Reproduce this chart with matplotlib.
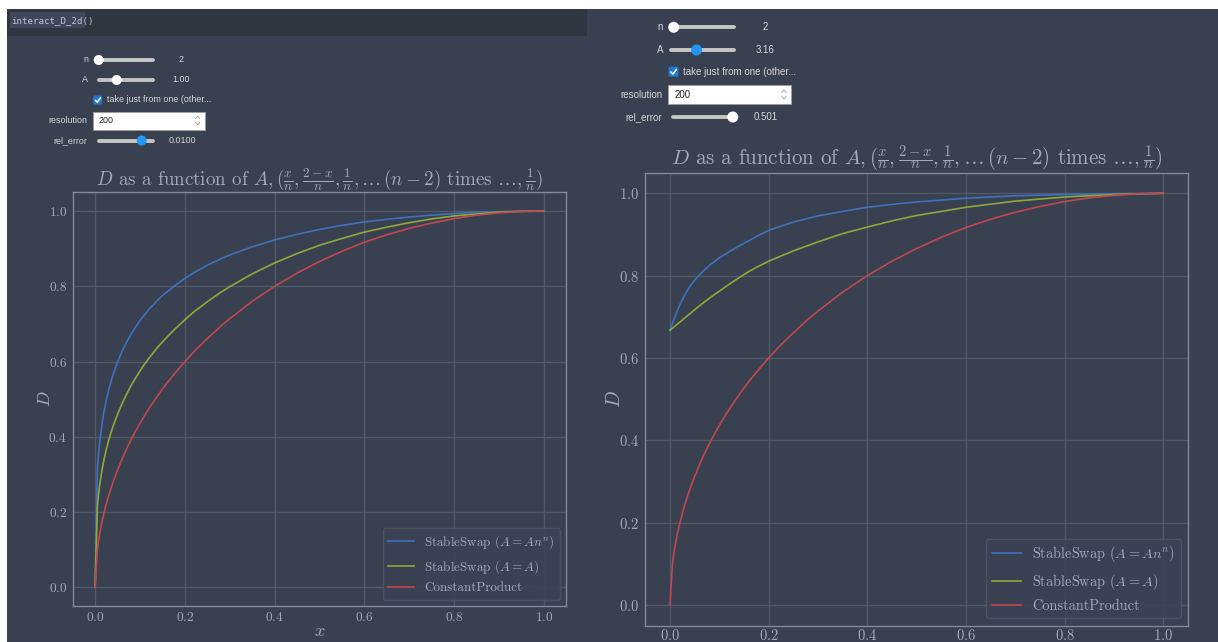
import matplotlib
matplotlib.use("Agg")
import matplotlib.pyplot as plt
from matplotlib.patches import Rectangle, Circle, FancyBboxPatch

# ---------------- data ----------------
x_grid = [0.0, 0.005, 0.0075, 0.01, 0.015, 0.02, 0.025, 0.03, 0.035, 0.04,
          0.05, 0.06, 0.07, 0.08, 0.09, 0.10, 0.11, 0.12, 0.13, 0.14,
          0.15, 0.16, 0.18, 0.20, 0.22, 0.25, 0.28, 0.30, 0.35, 0.40,
          0.45, 0.50, 0.55, 0.60, 0.65, 0.70, 0.75, 0.80, 0.85, 0.90,
          0.95, 1.0]
stable_ann_left = [0.0, 0.313, 0.353, 0.384, 0.432, 0.469, 0.498, 0.524, 0.546, 0.565,
                   0.599, 0.627, 0.651, 0.673, 0.692, 0.709, 0.724, 0.739, 0.751, 0.764,
                   0.775, 0.785, 0.804, 0.821, 0.836, 0.856, 0.873, 0.883, 0.905, 0.923,
                   0.938, 0.951, 0.962, 0.971, 0.978, 0.984, 0.989, 0.993, 0.997, 0.998,
                   1.000, 1.0]
stable_a_left = [0.0, 0.215, 0.246, 0.271, 0.310, 0.341, 0.367, 0.390, 0.410, 0.428,
                 0.460, 0.488, 0.513, 0.536, 0.556, 0.575, 0.593, 0.609, 0.624, 0.639,
                 0.652, 0.665, 0.689, 0.711, 0.732, 0.759, 0.784, 0.799, 0.833, 0.862,
                 0.887, 0.909, 0.927, 0.944, 0.957, 0.969, 0.979, 0.987, 0.992, 0.997,
                 0.999, 1.0]
const_prod = [0.0, 0.100, 0.122, 0.141, 0.173, 0.199, 0.222, 0.243, 0.262, 0.280,
              0.312, 0.341, 0.368, 0.392, 0.415, 0.436, 0.456, 0.475, 0.493, 0.510,
              0.527, 0.543, 0.572, 0.600, 0.626, 0.661, 0.694, 0.714, 0.760, 0.800,
              0.835, 0.866, 0.893, 0.917, 0.937, 0.954, 0.968, 0.980, 0.989, 0.995,
              0.999, 1.0]

x_right = [0.0, 0.005, 0.01, 0.015, 0.02, 0.03, 0.04, 0.05, 0.06, 0.07,
           0.08, 0.09, 0.10, 0.12, 0.14, 0.16, 0.18, 0.20, 0.25, 0.30,
           0.35, 0.40, 0.45, 0.50, 0.60, 0.70, 0.80, 0.90, 1.0]
stable_ann_right = [0.667, 0.684, 0.700, 0.715, 0.729, 0.753, 0.773, 0.789, 0.802, 0.814,
                    0.825, 0.834, 0.843, 0.858, 0.872, 0.885, 0.898, 0.910, 0.930, 0.945,
                    0.956, 0.966, 0.973, 0.979, 0.988, 0.994, 0.997, 0.999, 1.0]
stable_a_right = [0.667, 0.672, 0.677, 0.682, 0.687, 0.697, 0.707, 0.717, 0.727, 0.736,
                  0.745, 0.754, 0.762, 0.779, 0.795, 0.810, 0.823, 0.835, 0.860, 0.882,
                  0.902, 0.918, 0.933, 0.946, 0.966, 0.981, 0.991, 0.997, 1.0]

series_labels = [r"StableSwap $(A = An^n)$", r"StableSwap $(A = A)$", "ConstantProduct"]
title_text = (r"$D$ as a function of $A, (\frac{x}{n}, \frac{2-x}{n}, \frac{1}{n}, \ldots\,(n-2)$"
              r" times $\ldots, \frac{1}{n})$")

# ---------------- style ----------------
W, H = 1218, 642
BG = "#394150"
CODE_BG = "#30363f"
GRID = "#4f596a"
SPINE = "#7f8a9e"
TICK = "#a3abba"
C_BLUE = "#3f72bd"
C_GREEN = "#8fa838"
C_RED = "#c2474f"
WTXT = "#d6d6d6"

plt.rcParams["font.family"] = "cmr10"
plt.rcParams["mathtext.fontset"] = "cm"
plt.rcParams["axes.formatter.use_mathtext"] = True

fig = plt.figure(figsize=(W / 100, H / 100), dpi=100, facecolor="white")

# background / notebook chrome
bg = fig.add_axes([0, 0, 1, 1], zorder=0)
bg.set_xlim(0, W)
bg.set_ylim(H, 0)
bg.axis("off")
bg.add_patch(Rectangle((7, 9), W - 7, H - 9, fc=BG, ec="none"))
bg.add_patch(Rectangle((7, 9), 580, 27, fc=CODE_BG, ec="none"))
bg.add_patch(Rectangle((10, 12), 75, 16, fc="#3f4759", ec="none"))
bg.text(11.5, 20.5, "interact_D_2d()", family="DejaVu Sans Mono", fontsize=6.6,
        color="#b9c4d6", ha="left", va="center")

SANS = "Liberation Sans"


def wlabel(x, y, s, fs):
    bg.text(x, y, s, family=SANS, fontsize=fs, color=WTXT, ha="right", va="center")


def wvalue(x, y, s, fs):
    bg.text(x, y, s, family=SANS, fontsize=fs, color=WTXT, ha="center", va="center")


def slider(x0, x1, y, kx, kcol, r):
    bg.plot([x0, x1], [y, y], color="#c5c5c5", lw=2.8, solid_capstyle="round", zorder=2)
    bg.add_patch(Circle((kx, y), r, fc=kcol, ec="none", zorder=3))


def checkbox(cx, cy, s, text, fs):
    bg.add_patch(FancyBboxPatch((cx - s / 2, cy - s / 2), s, s, boxstyle="round,pad=0,rounding_size=1.5",
                                fc="#1f78d1", ec="none", zorder=2))
    bg.plot([cx - s * 0.28, cx - s * 0.06, cx + s * 0.3], [cy + s * 0.02, cy + s * 0.24, cy - s * 0.24],
            color="white", lw=1.1, zorder=3, solid_capstyle="round")
    bg.text(cx + s / 2 + 4.5, cy, text, family=SANS, fontsize=fs, color=WTXT, ha="left", va="center")


def textbox(x0, x1, y0, y1, label_x, s, fs):
    bg.add_patch(Rectangle((x0, y0), x1 - x0, y1 - y0, fc="white", ec="#9e9e9e", lw=0.6, zorder=2))
    bg.text(label_x, (y0 + y1) / 2, s, family=SANS, fontsize=fs, color="#222222",
            ha="left", va="center", zorder=3)
    sx = x1 - 7
    ym = (y0 + y1) / 2
    bg.plot([sx - 2, sx, sx + 2], [ym - 2, ym - 4.5, ym - 2], color="#9a9a9a", lw=0.6, zorder=3)
    bg.plot([sx - 2, sx, sx + 2], [ym + 2, ym + 4.5, ym + 2], color="#9a9a9a", lw=0.6, zorder=3)


# left widgets
fs = 6.4
wlabel(88, 60, "n", fs); slider(98.7, 153, 60, 98.7, "white", 5.0); wvalue(181, 60, "2", fs)
wlabel(88, 80, "A", fs); slider(98.7, 153, 80, 116.7, "white", 5.0); wvalue(181, 80, "1.00", fs)
checkbox(97.8, 100, 9, "take just from one (other...", fs)
wlabel(87, 120.5, "resolution", fs); textbox(93, 204.7, 111.5, 129.5, 98.4, "200", fs)
wlabel(87, 140.5, "rel_error", fs); slider(98.7, 153, 140.5, 141.7, "#2196f3", 5.0); wvalue(182, 140.5, "0.0100", fs)

# right widgets
fs = 7.0
wlabel(663, 27.3, "n", fs); slider(671, 734, 27.3, 673.7, "white", 5.5); wvalue(765.5, 27.3, "2", fs)
wlabel(663, 50, "A", fs); slider(671, 734, 50, 696.6, "#2196f3", 5.5); wvalue(765.5, 50, "3.16", fs)
checkbox(673.5, 71.7, 10, "take just from one (other...", fs)
wlabel(662.3, 94.5, "resolution", fs); textbox(668, 791, 85, 104, 675, "200", fs)
wlabel(662.3, 117, "rel_error", fs); slider(673, 734, 117, 732.8, "white", 5.5); wvalue(765.5, 117, "0.501", fs)


# ---------------- plots ----------------
def make_panel(rect, scale, xs_ss, ann, a, xs_cp, cp, show_xlabel, tick_pad_x):
    ax = fig.add_axes(rect, zorder=1)
    ax.set_facecolor(BG)
    ax.plot(xs_ss, ann, color=C_BLUE, lw=1.2, label=series_labels[0])
    ax.plot(xs_ss, a, color=C_GREEN, lw=1.2, label=series_labels[1])
    ax.plot(xs_cp, cp, color=C_RED, lw=1.2, label=series_labels[2])
    ax.set_xlim(-0.05, 1.05)
    ax.set_ylim(-0.05, 1.05)
    ax.set_xticks([0.0, 0.2, 0.4, 0.6, 0.8, 1.0])
    ax.set_yticks([0.0, 0.2, 0.4, 0.6, 0.8, 1.0])
    ax.grid(True, color=GRID, lw=1.0)
    ax.set_axisbelow(True)
    for sp in ax.spines.values():
        sp.set_color(SPINE)
        sp.set_linewidth(1.0)
    ax.tick_params(length=0, labelsize=9.6 * scale, colors=TICK)
    ax.tick_params(axis="y", pad=4.0 * scale)
    ax.tick_params(axis="x", pad=tick_pad_x)
    ax.set_ylabel(r"$D$", fontsize=13 * scale, color=TICK)
    ax.yaxis.set_label_coords(-0.04, 0.5)
    if show_xlabel:
        ax.set_xlabel(r"$x$", fontsize=13 * scale, color=TICK)
        ax.xaxis.set_label_coords(0.5, -0.043)
    ax.set_title(title_text, fontsize=13.7 * scale, color=TICK, pad=2.5 * scale)
    leg = ax.legend(loc="lower right", fontsize=9.4 * scale, frameon=True, fancybox=True,
                    facecolor="#3a4253", edgecolor="#4c5567", framealpha=0.9)
    for t in leg.get_texts():
        t.set_color(TICK)
    return ax


make_panel([72.7 / W, (H - 606.1) / H, 493.7 / W, 413.9 / H], 1.0,
           x_grid, stable_ann_left, stable_a_left, x_grid, const_prod, True, 3.5)
make_panel([645.3 / W, (H - 625.5) / H, 542.7 / W, 452.8 / H], 1.1,
           x_right, stable_ann_right, stable_a_right, x_grid, const_prod, False, 2.0)

fig.savefig("out.png", dpi=100, facecolor=fig.get_facecolor())
